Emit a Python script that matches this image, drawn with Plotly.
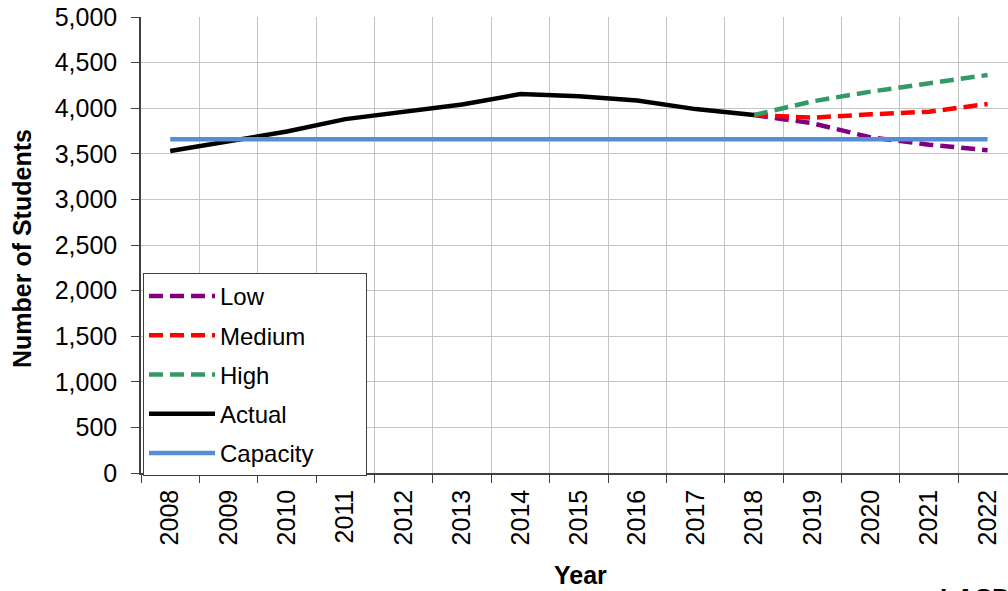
import plotly.graph_objects as go

years = [str(y) for y in range(2008, 2023)]
actual = [3530, 3635, 3745, 3880, 3962, 4040, 4155, 4130, 4085, 3990, 3925,
          None, None, None, None]
low = [None] * 10 + [3925, 3835, 3680, 3600, 3540]
medium = [None] * 10 + [3925, 3896, 3933, 3962, 4046]
high = [None] * 10 + [3925, 4075, 4182, 4272, 4364]
capacity = [3660] * 15

FONT = "Liberation Sans, Arial, sans-serif"
dash = "14px,7px"
PAD = "\u00a0" * 7

fig = go.Figure()
series = [
    ("Low", low, "#800080", dash),
    ("Medium", medium, "#FF0000", dash),
    ("High", high, "#339966", dash),
    ("Actual", actual, "#000000", "solid"),
    ("Capacity" + PAD, capacity, "#558ED5", "solid"),
]
for name, vals, color, d in series:
    fig.add_trace(go.Scatter(
        x=years, y=vals, name=name, mode="lines",
        line=dict(color=color, width=4.5, dash=d),
        legendgroup=name, connectgaps=False,
    ))

L, T, R, B = 141, 17, 0, 118
W, H = 1008, 591
pw = W - L - R
ph = H - T - B

fig.update_layout(
    width=W, height=H,
    margin=dict(l=L, r=R, t=T, b=B, autoexpand=False),
    plot_bgcolor="white", paper_bgcolor="white",
    font=dict(family=FONT, size=25, color="black"),
    showlegend=True,
    legend=dict(
        x=(143 - L) / pw, y=(473 - 273) / ph, xanchor="left", yanchor="top",
        bgcolor="white", bordercolor="#404040", borderwidth=1,
        font=dict(family=FONT, size=24, color="black"),
        tracegroupgap=5, traceorder="grouped", itemwidth=66,
    ),
    xaxis=dict(
        type="category", range=[-0.5, 14.35],
        tickson="boundaries", showgrid=True, gridcolor="#c4c4c4", gridwidth=1,
        ticks="outside", ticklen=8, tickcolor="#404040", tickwidth=1,
        tickangle=-90, showline=True, linecolor="#404040", linewidth=1.5,
        tickfont=dict(family=FONT, size=25), zeroline=False,
        ticklabelstandoff=5,
    ),
    yaxis=dict(
        range=[0, 5000], dtick=500, tickformat=",",
        showgrid=True, gridcolor="#c4c4c4", gridwidth=1,
        ticks="outside", ticklen=8, tickcolor="#404040", tickwidth=1,
        showline=True, linecolor="#404040", linewidth=1.5,
        tickfont=dict(family=FONT, size=25), zeroline=False,
        ticklabelstandoff=9,
    ),
    annotations=[
        dict(text="<b>Number of Students</b>", xref="paper", yref="paper",
             x=(22 - L) / pw, y=(473 - 248) / ph, textangle=-90,
             showarrow=False, font=dict(family=FONT, size=25),
             xanchor="center", yanchor="middle"),
        dict(text="<b>Year</b>", xref="paper", yref="paper",
             x=(580 - L) / pw, y=(473 - 575) / ph, showarrow=False,
             font=dict(family=FONT, size=25), xanchor="center", yanchor="middle"),
        dict(text="<b>LASD</b>", xref="paper", yref="paper",
             x=(938 - L) / pw, y=(473 - 581) / ph, showarrow=False,
             font=dict(family=FONT, size=26), xanchor="left", yanchor="top"),
    ],
)

fig.write_html("out.html", config={"displayModeBar": False},
               post_script="document.body.style.margin='0px';")
